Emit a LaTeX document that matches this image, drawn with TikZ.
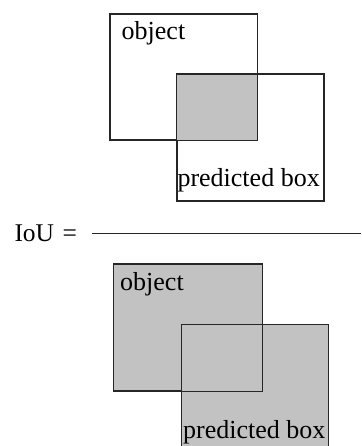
\documentclass[tikz,border=0pt]{standalone}
\usepackage{fontspec}
\setmainfont{Liberation Serif}
\begin{document}
\begin{tikzpicture}[x=1pt,y=-1pt,
  box/.style={draw=black!85, line width=1.1pt, inner sep=0pt, anchor=north west},
  shade/.style={fill=black!24},
  edge/.style={draw=black!85, line width=1.1pt},
  lbl/.style={inner sep=0pt, anchor=base west, font=\fontsize{26}{28}\selectfont}]
  \useasboundingbox (0,0) rectangle (361,446);

  % numerator: overlapping boxes with the shared area shaded
  \node[box, minimum width=147pt, minimum height=126pt] (obj1) at (109.5,13.5) {};
  \node[box, minimum width=146.5pt, minimum height=126pt] (pred1) at (176.8,74) {};
  \fill[shade] (pred1.north west) rectangle (obj1.south east);
  \draw[edge] (obj1.north west) rectangle (obj1.south east);
  \draw[edge] (pred1.north west) rectangle (pred1.south east);
  \node[lbl] (objtxt1) at (121.5,39.3) {object};
  \node[lbl] (predtxt1) at (177.3,186.7) {predicted box};

  % fraction bar
  \node[lbl, font=\fontsize{25.5}{28}\selectfont] (iou) at (14.3,241.7) {IoU\,\,=};
  \coordinate (barL) at (91.5,233.3);
  \coordinate (barR) at (361,233.3);
  \draw[edge] (barL) -- (barR);

  % denominator: the union of both boxes, all shaded
  \node[box, shade, minimum width=148.5pt, minimum height=126pt] (obj2) at (113.3,264) {};
  \node[box, shade, minimum width=147.3pt, minimum height=130pt] (pred2) at (181,324.3) {};
  \draw[edge] (obj2.north west) rectangle (obj2.south east);
  \node[lbl] (objtxt2) at (120,290) {object};
  \node[lbl] (predtxt2) at (183,438.3) {predicted box};
\end{tikzpicture}
\end{document}
